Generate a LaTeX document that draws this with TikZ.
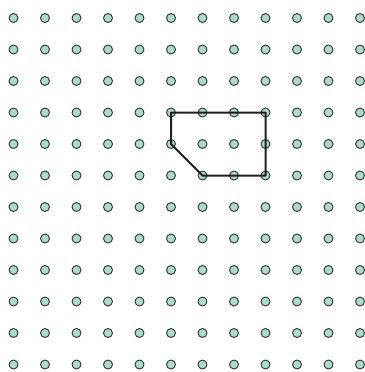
\documentclass[tikz,border=0pt]{standalone}
\definecolor{dotfill}{HTML}{A8DCCB}
\definecolor{dotline}{HTML}{333333}
\tikzset{
  gdot/.style={circle, draw=dotline, fill=dotfill, line width=0.9pt, minimum size=9pt, inner sep=0pt},
  shape line/.style={draw=black!88, line width=2pt, line join=round}
}
\begin{document}
\begin{tikzpicture}[x=1pt,y=-1pt]
\useasboundingbox (0,0) rectangle (364,372);
\foreach \i in {0,...,11}{
  \foreach \j in {0,...,11}{
    \node[gdot] (d-\i-\j) at ({13.5+31.5*\i},{18+31.5*\j}) {};
  }
}
\draw[shape line] (d-5-3.center) -- (d-8-3.center) -- (d-8-5.center) -- (d-6-5.center) -- (d-5-4.center) -- cycle;
\end{tikzpicture}
\end{document}
